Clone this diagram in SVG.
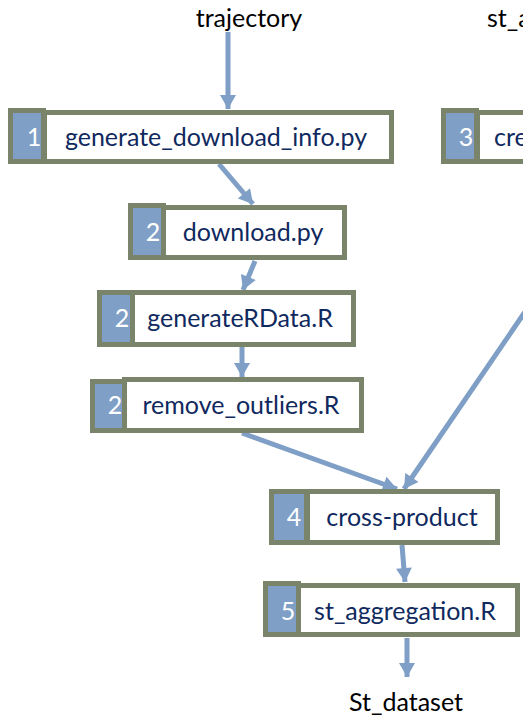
<svg xmlns="http://www.w3.org/2000/svg" width="523" height="717" viewBox="0 0 523 717">
<style>
.num{fill:#7f9fc6;stroke:#7a846a;stroke-width:5}
.box{fill:#ffffff;stroke:#7a846a;stroke-width:5}
.n{font-family:Lato,"Liberation Sans",sans-serif;font-size:25px;fill:#ffffff;text-anchor:middle}
.t{font-family:Lato,"Liberation Sans",sans-serif;font-size:25px;fill:#10295e;text-anchor:middle}
.l{font-family:Lato,"Liberation Sans",sans-serif;font-size:25px;fill:#000000;text-anchor:middle}
.c{stroke:#7f9fc6;stroke-width:5;fill:none;marker-end:url(#ah)}
</style>
<defs>
<marker id="ah" markerUnits="userSpaceOnUse" markerWidth="16" markerHeight="16" viewBox="0 0 14 16" refX="14" refY="8" orient="auto">
<path d="M0,0 L14,8 L0,16 Z" fill="#7f9fc6"/>
</marker>
</defs>
<rect width="523" height="717" fill="#ffffff"/>
<g id="labels">
<text class="l" x="249" y="27">trajectory</text>
<text class="l" x="487" y="27" style="text-anchor:start">st_a</text>
<text class="l" x="406" y="711">St_dataset</text>
</g>
<g id="connectors">
<line class="c" x1="228" y1="32" x2="228" y2="109"/>
<line class="c" x1="219" y1="164" x2="253" y2="204"/>
<line class="c" x1="255" y1="261" x2="243" y2="290"/>
<line class="c" x1="242" y1="347" x2="242" y2="377"/>
<line class="c" x1="242" y1="433" x2="397" y2="489"/>
<line class="c" x1="626" y1="164" x2="404" y2="489"/>
<line class="c" x1="402" y1="545" x2="405" y2="582"/>
<line class="c" x1="407" y1="638" x2="407" y2="677"/>
</g>
<g id="node1">
<rect class="box" x="44.5" y="112.5" width="347" height="49"/>
<rect class="num" x="10.5" y="110.5" width="33" height="51"/>
<text class="n" x="34" y="146">1</text>
<text class="t" x="216" y="146">generate_download_info.py</text>
</g>
<g id="node3">
<rect class="box" x="477.5" y="112.5" width="200" height="49"/>
<rect class="num" x="443.5" y="110.5" width="33" height="51"/>
<text class="n" x="466" y="146">3</text>
<text class="t" x="494" y="146" style="text-anchor:start">cre</text>
</g>
<g id="node2">
<rect class="box" x="163.5" y="207.5" width="181" height="50"/>
<rect class="num" x="130.5" y="205.5" width="33" height="52"/>
<text class="n" x="153" y="241">2</text>
<text class="t" x="253" y="241">download.py</text>
</g>
<g id="node2b">
<rect class="box" x="132.5" y="292.5" width="221" height="52"/>
<rect class="num" x="99.5" y="292.5" width="33" height="52"/>
<text class="n" x="122" y="327">2</text>
<text class="t" x="240" y="327">generateRData.R</text>
</g>
<g id="node2c">
<rect class="box" x="124.5" y="379.5" width="237" height="51"/>
<rect class="num" x="92.5" y="381.5" width="32" height="49"/>
<text class="n" x="115" y="414">2</text>
<text class="t" x="241" y="414">remove_outliers.R</text>
</g>
<g id="node4">
<rect class="box" x="307.5" y="491.5" width="190" height="51"/>
<rect class="num" x="271.5" y="491.5" width="35" height="51"/>
<text class="n" x="294" y="526">4</text>
<text class="t" x="402" y="526">cross-product</text>
</g>
<g id="node5">
<rect class="box" x="298.5" y="585.5" width="219" height="49"/>
<rect class="num" x="265.5" y="583.5" width="33" height="51"/>
<text class="n" x="288" y="620">5</text>
<text class="t" x="405" y="620">st_aggregation.R</text>
</g>
</svg>
